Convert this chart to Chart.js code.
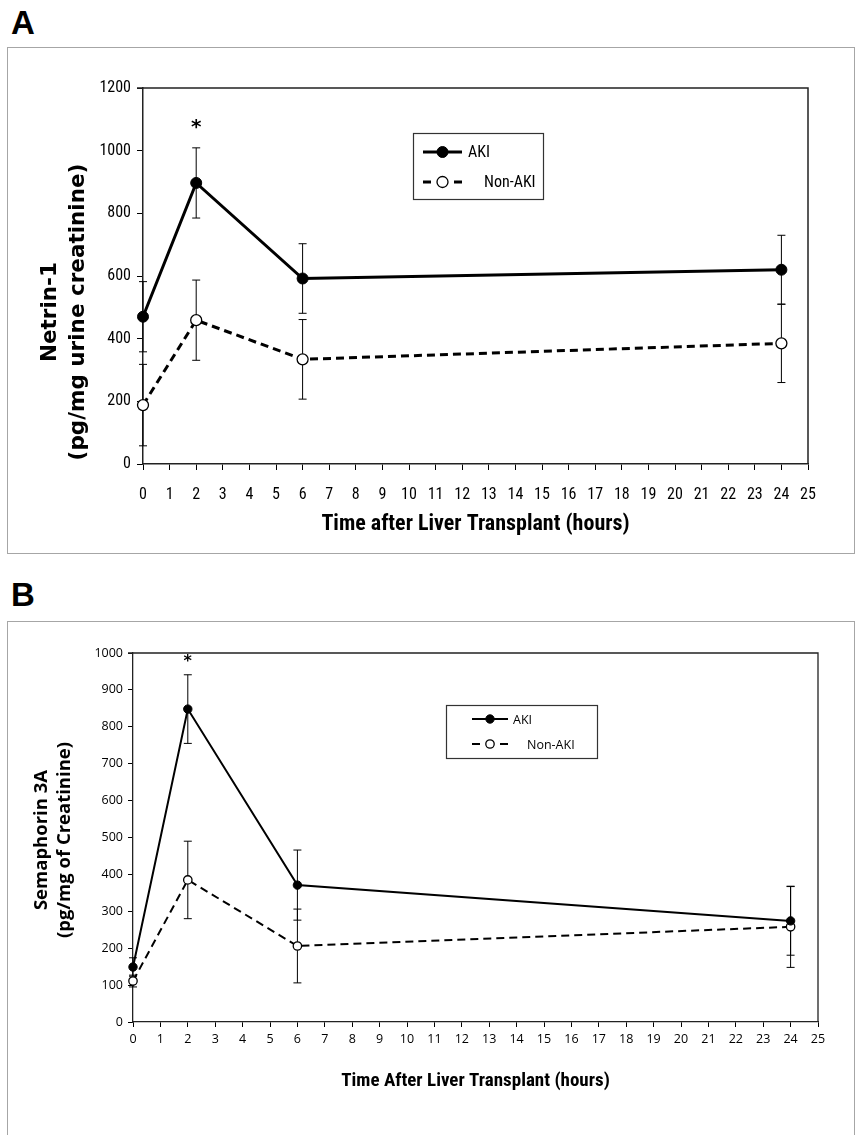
<!DOCTYPE html>
<html>
<head>
<meta charset="utf-8">
<script src="https://cdn.jsdelivr.net/npm/chart.js@4.4.0/dist/chart.umd.min.js"></script>
<style>
  body { margin: 0; background: #fff; width: 855px; height: 1135px; position: relative; overflow: hidden; }
  .letter { position: absolute; left: 11px; font: bold 33px "Liberation Sans", Arial, sans-serif; color: #000; }
  .panel { position: absolute; left: 7px; width: 846px; border: 1px solid #a6a6a6; }
  canvas { position: absolute; left: 0; top: 0; }
</style>
</head>
<body>
<div class="letter" style="top:4px">A</div>
<div class="panel" style="top:47px;height:505px"><canvas id="chartA" width="845" height="504"></canvas></div>
<div class="letter" style="top:576px">B</div>
<div class="panel" style="top:621px;height:520px"><canvas id="chartB" width="845" height="513"></canvas></div>
<script>
  // 資料
  const hours = [0, 2, 6, 24];
  const xTicksMax = 25;

  // Panel A: Netrin-1
  const akiA = [470, 897, 592, 620];
  const akiErrA = [112, 112, 111, 110];
  const nonAkiA = [188, 459, 334, 385];
  const nonAkiErrA = [130, 128, 127, 125];
  const yMaxA = 1200, yStepA = 200;

  // Panel B: Semaphorin 3A
  const akiB = [149, 848, 371, 274];
  const akiErrB = [25, 93, 95, 93];
  const nonAkiB = [111, 385, 206, 258];
  const nonAkiErrB = [16, 105, 100, 110];
  const yMaxB = 1000, yStepB = 100;

  const sigHours = [2];   // 星號位置

  const narrow = '"Liberation Sans Narrow", "Roboto Condensed", "Arial Narrow", sans-serif';

  // 誤差線
  const errorBars = {
    id: 'errorBars',
    beforeDatasetsDraw(chart, args, opts) {
      const { ctx, scales: { x, y } } = chart;
      ctx.save();
      ctx.strokeStyle = '#000';
      ctx.lineWidth = opts.width || 1;
      chart.data.datasets.forEach(ds => {
        ds.data.forEach((p, i) => {
          const e = ds.errors[i];
          const px = x.getPixelForValue(p.x);
          const top = y.getPixelForValue(p.y + e);
          const bot = y.getPixelForValue(p.y - e);
          ctx.beginPath();
          ctx.moveTo(px, top); ctx.lineTo(px, bot);
          ctx.moveTo(px - opts.cap, top); ctx.lineTo(px + opts.cap, top);
          ctx.moveTo(px - opts.cap, bot); ctx.lineTo(px + opts.cap, bot);
          ctx.stroke();
        });
      });
      ctx.restore();
    }
  };

  // 外框 + 星號 + 圖例 + Y 軸標題
  const extras = {
    id: 'extras',
    afterDraw(chart, args, o) {
      const { ctx, chartArea: ca, scales: { x, y } } = chart;
      ctx.save();
      // plot frame
      ctx.strokeStyle = '#222';
      ctx.lineWidth = o.frameWidth;
      ctx.beginPath();
      ctx.moveTo(ca.left, ca.top); ctx.lineTo(ca.right, ca.top); ctx.lineTo(ca.right, ca.bottom);
      ctx.moveTo(ca.left - o.tick, ca.top); ctx.lineTo(ca.left, ca.top);
      ctx.stroke();

      // asterisk above the AKI error bar
      const aki = chart.data.datasets[0];
      ctx.fillStyle = '#000';
      ctx.font = o.starFont;
      ctx.textAlign = 'center';
      ctx.textBaseline = 'middle';
      sigHours.forEach(h => {
        const i = hours.indexOf(h);
        ctx.fillText('*', x.getPixelForValue(h), y.getPixelForValue(aki.data[i].y + aki.errors[i]) - o.starGap);
      });

      // legend
      const L = o.legend;
      ctx.strokeStyle = '#333';
      ctx.lineWidth = 1.2;
      ctx.strokeRect(L.x + 0.5, L.y + 0.5, L.w, L.h);
      ctx.font = L.font;
      ctx.textAlign = 'left';
      chart.data.datasets.forEach((ds, k) => {
        const ry = L.y + L.rows[k];
        ctx.strokeStyle = '#000';
        ctx.lineWidth = ds.borderWidth;
        ctx.beginPath();
        if (k === 0) {
          ctx.moveTo(L.x + L.lx0, ry); ctx.lineTo(L.x + L.lx1, ry);
        } else {
          ctx.moveTo(L.x + L.lx0, ry); ctx.lineTo(L.x + L.lx0 + L.dash, ry);
          ctx.moveTo(L.x + L.lx1 - L.dash, ry); ctx.lineTo(L.x + L.lx1, ry);
        }
        ctx.stroke();
        ctx.beginPath();
        ctx.arc(L.x + (L.lx0 + L.lx1) / 2, ry, ds.pointRadius, 0, Math.PI * 2);
        ctx.fillStyle = ds.pointBackgroundColor;
        ctx.fill();
        ctx.lineWidth = ds.pointBorderWidth;
        ctx.stroke();
        ctx.fillStyle = '#000';
        ctx.fillText(ds.label, L.x + L.tx[k], ry + 1);
      });

      // y title (two lines, rotated)
      const T = o.yTitle;
      ctx.font = T.font;
      ctx.textAlign = 'center';
      ctx.translate(0, T.cy);
      ctx.rotate(-Math.PI / 2);
      T.lines.forEach((t, k) => ctx.fillText(t, 0, T.xs[k]));
      ctx.restore();
    }
  };

  function series(vals) { return hours.map((h, i) => ({ x: h, y: vals[i] })); }

  function makeChart(id, p) {
    return new Chart(document.getElementById(id), {
      type: 'scatter',
      data: {
        datasets: [{
          label: 'AKI',
          data: series(p.aki), errors: p.akiErr,
          showLine: true, clip: false,
          borderColor: '#000', borderWidth: p.lw,
          pointRadius: p.r, pointHoverRadius: p.r,
          pointBackgroundColor: '#000', pointBorderColor: '#000', pointBorderWidth: 1
        }, {
          label: 'Non-AKI',
          data: series(p.non), errors: p.nonErr,
          showLine: true, clip: false,
          borderColor: '#000', borderWidth: p.lw, borderDash: p.dash,
          pointRadius: p.r, pointHoverRadius: p.r,
          pointBackgroundColor: '#fff', pointBorderColor: '#000', pointBorderWidth: 1.3
        }]
      },
      options: {
        responsive: false,
        animation: false,
        events: [],
        layout: { padding: p.pad },
        plugins: {
          legend: { display: false },
          tooltip: { enabled: false },
          errorBars: { cap: p.cap, width: 1 },
          extras: p.extras
        },
        scales: {
          x: {
            type: 'linear', min: 0, max: xTicksMax,
            afterFit: s => { s.height = p.xHeight; },
            ticks: { stepSize: 1, color: '#000', font: p.tickFont, padding: p.xTickPad, maxRotation: 0, autoSkip: false,
                     callback: v => String(v) },
            grid: { drawOnChartArea: false, drawTicks: true, tickLength: p.tickLen, color: '#000' },
            border: { color: '#222', width: p.axisW },
            title: { display: true, text: p.xTitle, color: '#000', font: p.xTitleFont, padding: { top: 0, bottom: p.xTitlePad } }
          },
          y: {
            min: 0, max: p.yMax,
            afterFit: s => { s.width = p.yWidth; },
            ticks: { stepSize: p.yStep, color: '#000', font: p.tickFont, padding: p.yTickPad,
                     callback: v => String(v) },
            grid: { drawOnChartArea: false, drawTicks: true, tickLength: p.tickLen, color: '#000' },
            border: { color: '#222', width: p.axisW }
          }
        }
      },
      plugins: [errorBars, extras]
    });
  }

  makeChart('chartA', {
    aki: akiA, akiErr: akiErrA, non: nonAkiA, nonErr: nonAkiErrA,
    yMax: yMaxA, yStep: yStepA,
    lw: 3, dash: [8, 5], r: 5.5, cap: 4,
    pad: { left: 0, top: 40, right: 45, bottom: 0 },
    xHeight: 88, yWidth: 135, tickLen: 6, axisW: 1.5,
    tickFont: { family: narrow, size: 16 }, xTickPad: 15, yTickPad: 6,
    xTitle: 'Time after Liver Transplant (hours)',
    xTitleFont: { family: narrow, size: 22, weight: 'bold' }, xTitlePad: 14,
    extras: {
      frameWidth: 1.5, tick: 6,
      starFont: 'bold 20px "DejaVu Sans", sans-serif', starGap: 20,
      legend: { x: 405, y: 85, w: 130, h: 66, rows: [19, 49], lx0: 10, lx1: 49, dash: 8, tx: [55, 71],
                font: '16px ' + narrow },
      yTitle: { font: 'bold 21.5px "DejaVu Sans", sans-serif', cy: 264, xs: [42, 70],
                lines: ['Netrin-1', '(pg/mg urine creatinine)'] }
    }
  });

  makeChart('chartB', {
    aki: akiB, akiErr: akiErrB, non: nonAkiB, nonErr: nonAkiErrB,
    yMax: yMaxB, yStep: yStepB,
    lw: 2, dash: [8, 5], r: 4.2, cap: 4,
    pad: { left: 0, top: 31, right: 35, bottom: 0 },
    xHeight: 113, yWidth: 125, tickLen: 5, axisW: 1.3,
    tickFont: { family: '"Open Sans", sans-serif', size: 12.5 }, xTickPad: 5, yTickPad: 5,
    xTitle: 'Time After Liver Transplant (hours)',
    xTitleFont: { family: narrow, size: 19, weight: 'bold' }, xTitlePad: 42,
    extras: {
      frameWidth: 1.3, tick: 5,
      starFont: 'bold 16px "DejaVu Sans", sans-serif', starGap: 13,
      legend: { x: 438, y: 83, w: 151, h: 53, rows: [14, 39], lx0: 26, lx1: 62, dash: 8, tx: [67, 81],
                font: '12.5px "Open Sans", sans-serif' },
      yTitle: { font: 'bold 18.5px "Open Sans", sans-serif', cy: 218, xs: [34, 57],
                lines: ['Semaphorin 3A', '(pg/mg of Creatinine)'] }
    }
  });
</script>
</body>
</html>
